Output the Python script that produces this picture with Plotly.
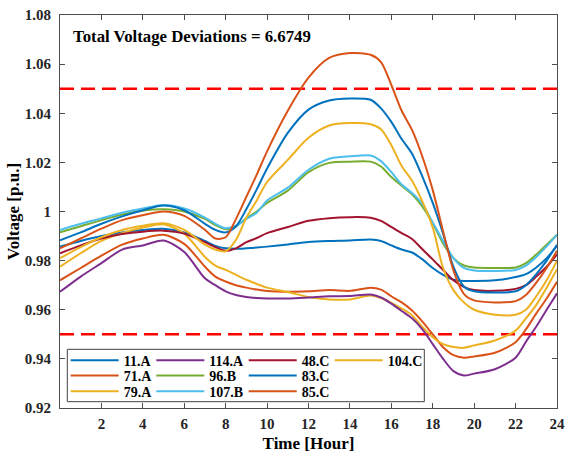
import plotly.graph_objects as go

# ---------------- data ----------------
hours = [0, 1, 2, 3, 4, 5, 6, 7, 7.5, 8, 8.5, 9, 9.5, 10, 11, 12, 13, 14, 15, 15.5,
         16, 16.5, 17, 17.5, 18, 18.5, 19, 19.5, 20, 21, 22, 22.5, 23, 23.5, 24]

v_11A = [0.9857, 0.9880, 0.9900, 0.9915, 0.9925, 0.9930, 0.9915, 0.9880, 0.9860, 0.9850,
         0.9848, 0.9850, 0.9853, 0.9857, 0.9866, 0.9876, 0.9880, 0.9882, 0.9886, 0.9880,
         0.9862, 0.9845, 0.9833, 0.9805, 0.9770, 0.9742, 0.9722, 0.9717, 0.9717, 0.9720,
         0.9733, 0.9745, 0.9772, 0.9810, 0.9860]
v_71A = [0.9720, 0.9770, 0.9820, 0.9865, 0.9890, 0.9905, 0.9868, 0.9775, 0.9735, 0.9715,
         0.9700, 0.9690, 0.9682, 0.9676, 0.9673, 0.9675, 0.9680, 0.9677, 0.9690, 0.9682,
         0.9655, 0.9630, 0.9597, 0.9552, 0.9500, 0.9447, 0.9415, 0.9405, 0.9410, 0.9425,
         0.9468, 0.9520, 0.9585, 0.9646, 0.9714]
v_79A = [0.9775, 0.9830, 0.9880, 0.9912, 0.9935, 0.9948, 0.9910, 0.9815, 0.9780, 0.9762,
         0.9742, 0.9722, 0.9705, 0.9690, 0.9672, 0.9652, 0.9642, 0.9642, 0.9658, 0.9648,
         0.9628, 0.9605, 0.9578, 0.9530, 0.9488, 0.9460, 0.9448, 0.9445, 0.9455, 0.9475,
         0.9515, 0.9565, 0.9620, 0.9690, 0.9765]
v_114A = [0.9673, 0.9735, 0.9790, 0.9845, 0.9862, 0.9882, 0.9835, 0.9728, 0.9700, 0.9675,
          0.9660, 0.9652, 0.9648, 0.9646, 0.9646, 0.9650, 0.9655, 0.9656, 0.9662, 0.9650,
          0.9625, 0.9595, 0.9565, 0.9520, 0.9460, 0.9400, 0.9350, 0.9332, 0.9340, 0.9358,
          0.9405, 0.9470, 0.9532, 0.9600, 0.9667]
v_96B = [0.9915, 0.9940, 0.9965, 0.9988, 1.0003, 1.0009, 1.0000, 0.9970, 0.9945, 0.9928,
         0.9940, 0.9972, 1.0000, 1.0035, 1.0085, 1.0160, 1.0198, 1.0203, 1.0203, 1.0183,
         1.0140, 1.0105, 1.0070, 1.0020, 0.9952, 0.9870, 0.9810, 0.9780, 0.9772, 0.9770,
         0.9772, 0.9790, 0.9825, 0.9865, 0.9905]
v_107B = [0.9925, 0.9950, 0.9972, 0.9995, 1.0012, 1.0026, 1.0012, 0.9975, 0.9950, 0.9932,
          0.9942, 0.9970, 0.9995, 1.0045, 1.0097, 1.0170, 1.0215, 1.0225, 1.0228, 1.0205,
          1.0160, 1.0110, 1.0075, 1.0030, 0.9955, 0.9880, 0.9810, 0.9770, 0.9760, 0.9758,
          0.9762, 0.9780, 0.9815, 0.9858, 0.9905]
v_48C = [0.9830, 0.9862, 0.9890, 0.9908, 0.9918, 0.9922, 0.9910, 0.9875, 0.9855, 0.9840,
         0.9850, 0.9875, 0.9892, 0.9912, 0.9937, 0.9962, 0.9973, 0.9977, 0.9975, 0.9962,
         0.9937, 0.9912, 0.9888, 0.9846, 0.9805, 0.9762, 0.9720, 0.9693, 0.9680, 0.9677,
         0.9685, 0.9700, 0.9735, 0.9775, 0.9825]
v_83C = [0.9883, 0.9915, 0.9950, 0.9980, 1.0005, 1.0024, 1.0005, 0.9950, 0.9925, 0.9915,
         0.9940, 1.0010, 1.0090, 1.0175, 1.0320, 1.0415, 1.0452, 1.0460, 1.0455, 1.0420,
         1.0365, 1.0295, 1.0235, 1.0142, 1.0035, 0.9910, 0.9775, 0.9695, 0.9675, 0.9670,
         0.9675, 0.9700, 0.9745, 0.9800, 0.9865]
v_85C = [0.9850, 0.9890, 0.9930, 0.9965, 0.9985, 1.0000, 0.9982, 0.9925, 0.9890, 0.9895,
         0.9970, 1.0060, 1.0150, 1.0245, 1.0410, 1.0545, 1.0625, 1.0645, 1.0638, 1.0608,
         1.0515, 1.0410, 1.0332, 1.0223, 1.0087, 0.9920, 0.9760, 0.9665, 0.9638, 0.9630,
         0.9635, 0.9660, 0.9710, 0.9770, 0.9840]
v_104C = [0.9810, 0.9855, 0.9895, 0.9925, 0.9942, 0.9952, 0.9925, 0.9865, 0.9845, 0.9838,
          0.9885, 0.9975, 1.0045, 1.0120, 1.0210, 1.0300, 1.0350, 1.0360, 1.0355, 1.0335,
          1.0270, 1.0185, 1.0125, 1.0040, 0.9935, 0.9770, 0.9680, 0.9630, 0.9600, 0.9580,
          0.9580, 0.9600, 0.9655, 0.9720, 0.9800]

series_names = ["11.A", "71.A", "79.A", "114.A", "96.B", "107.B", "48.C", "83.C", "85.C", "104.C"]
series_values = [v_11A, v_71A, v_79A, v_114A, v_96B, v_107B, v_48C, v_83C, v_85C, v_104C]

voltage_limits = [0.95, 1.05]
total_deviation = 6.6749

x_tickvals = [2, 4, 6, 8, 10, 12, 14, 16, 18, 20, 22, 24]
x_ticktext = ["2", "4", "6", "8", "10", "12", "14", "16", "18", "20", "22", "24"]
y_tickvals = [0.92, 0.94, 0.96, 0.98, 1.00, 1.02, 1.04, 1.06, 1.08]
y_ticktext = ["0.92", "0.94", "0.96", "0.98", "1", "1.02", "1.04", "1.06", "1.08"]

# ---------------- style ----------------
colors = ["#0072BD", "#D95319", "#EDB120", "#7E2F8E", "#77AC30",
          "#4DBEEE", "#A2142F", "#0072BD", "#D95319", "#EDB120"]
legend_cell = [(0, 0), (0, 1), (0, 2), (1, 0), (1, 1), (1, 2), (2, 0), (2, 1), (2, 2), (3, 0)]
col_px = [72.7, 158.3, 250.7, 336.7]
row_px = [360.7, 376.0, 391.7]

W, H = 565, 456
ML, MR, MT, MB = 60, 8, 15, 48
PW, PH = W - ML - MR, H - MT - MB
FONT = "Liberation Serif"
AX = "#4d4d4d"


def px2paper_x(px):
    return (px - ML) / PW


def px2paper_y(py):
    return (H - MB - py) / PH


fig = go.Figure()

for lim in voltage_limits:
    fig.add_trace(go.Scatter(x=[0, 24], y=[lim, lim], mode="lines",
                             line=dict(color="#FF0000", width=2.5, dash="14px,7px"),
                             showlegend=False, hoverinfo="skip"))

legend_layouts = {}
for i, (name, vals) in enumerate(zip(series_names, series_values)):
    key = "legend" if i == 0 else f"legend{i + 1}"
    fig.add_trace(go.Scatter(x=hours, y=vals, mode="lines", name=name,
                             line=dict(color=colors[i], width=2, shape="spline", smoothing=0.8),
                             legend=key))
    c, r = legend_cell[i]
    legend_layouts[key] = dict(
        x=px2paper_x(col_px[c] - 7), y=px2paper_y(row_px[r]),
        xanchor="left", yanchor="middle",
        bgcolor="rgba(0,0,0,0)", borderwidth=0,
        itemwidth=48,
        font=dict(family=FONT, size=14, color="black", weight="bold"),
    )

fig.update_layout(**legend_layouts)

# legend frame
fig.add_shape(type="rect", xref="paper", yref="paper",
              x0=px2paper_x(67.3), x1=px2paper_x(424.3),
              y0=px2paper_y(401.7), y1=px2paper_y(349.3),
              line=dict(color="#404040", width=1), fillcolor="white", layer="above")

fig.add_annotation(text=f"Total Voltage Deviations = {total_deviation}",
                   xref="paper", yref="paper", x=px2paper_x(71), y=px2paper_y(37),
                   xanchor="left", yanchor="middle", showarrow=False,
                   font=dict(family=FONT, size=16.8, color="black", weight="bold"))

axis_common = dict(showgrid=False, zeroline=False, showline=True, linecolor=AX, linewidth=1,
                   mirror="ticks", ticks="inside", ticklen=5, tickcolor=AX, tickwidth=1,
                   ticklabeloverflow="allow",
                   tickfont=dict(family=FONT, size=15, color="#262626", weight="bold"))

fig.update_xaxes(range=[0, 24], tickvals=x_tickvals, ticktext=x_ticktext,
                 ticklabelstandoff=2,
                 title=dict(text="Time [Hour]", standoff=6,
                            font=dict(family=FONT, size=17, color="black", weight="bold")),
                 **axis_common)
fig.update_yaxes(range=[0.92, 1.08], tickvals=y_tickvals, ticktext=y_ticktext,
                 ticklabelstandoff=5,
                 title=dict(text="Voltage [p.u.]", standoff=0,
                            font=dict(family=FONT, size=17, color="black", weight="bold")),
                 **axis_common)

fig.update_layout(width=W, height=H, margin=dict(l=ML, r=MR, t=MT, b=MB, autoexpand=False),
                  plot_bgcolor="white", paper_bgcolor="white", font=dict(family=FONT))

fig.write_html("out.html", config={"displayModeBar": False},
               post_script="document.body.style.margin='0';document.body.style.padding='0';")
